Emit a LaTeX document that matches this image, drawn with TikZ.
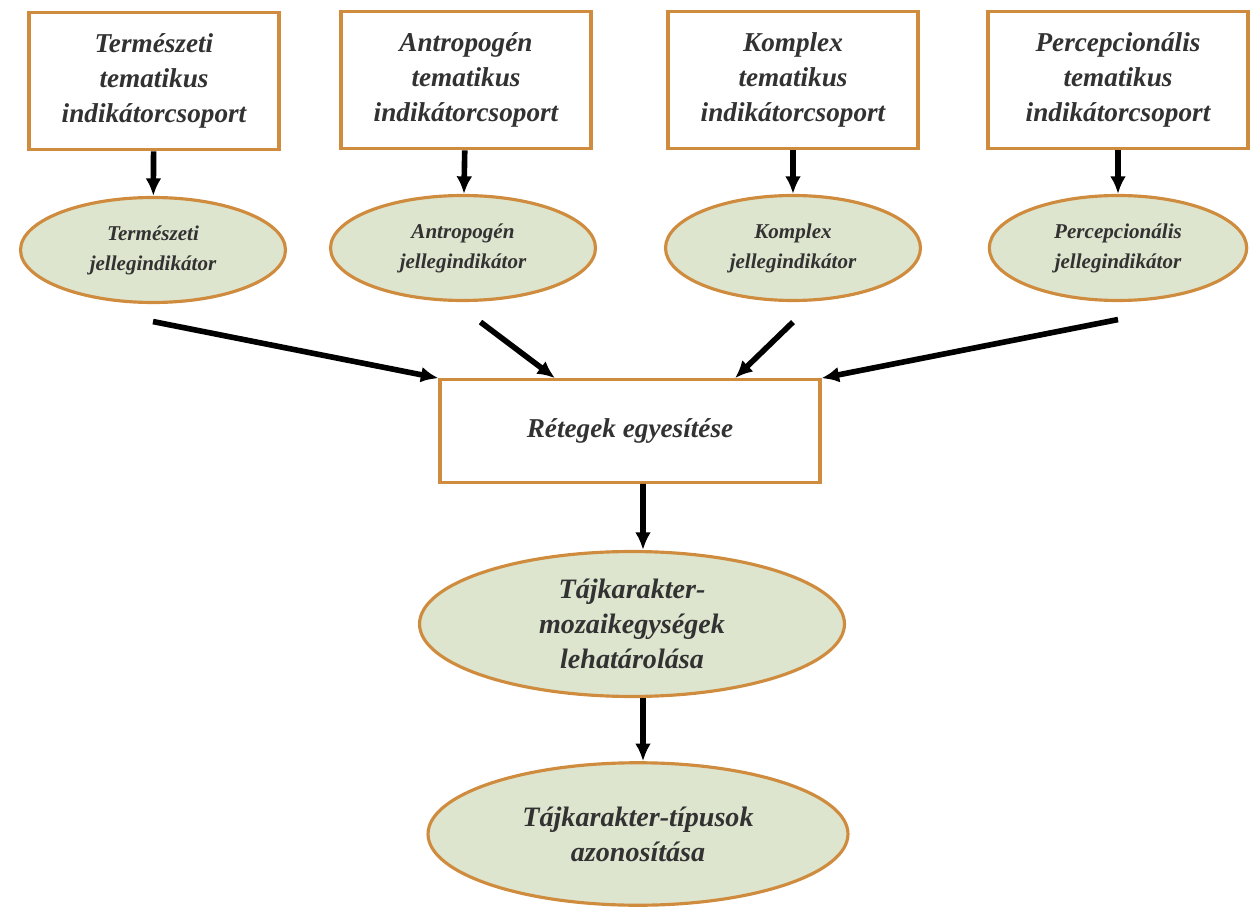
\documentclass[tikz,border=0pt]{standalone}
\usepackage{fontspec}
\setmainfont{Liberation Serif}
\usepackage{tikz}
\usetikzlibrary{shapes.geometric, arrows.meta}

\definecolor{frame}{RGB}{208,140,62}
\definecolor{leaf}{RGB}{221,229,207}
\definecolor{ink}{RGB}{50,50,50}

\begin{document}
\begin{tikzpicture}[x = 0.02cm, y = -0.02cm, line width = 1pt,
                      group/.style = {draw = frame, line width = 1.8pt, fill = white, text = ink,
                                      minimum width = 5.0cm, minimum height = 2.75cm,
                                      align = center, font = \fontsize{15.5}{20}\selectfont\bfseries\itshape},
                      trait/.style = {ellipse, draw = frame, line width = 1.8pt, fill = leaf, text = ink,
                                      minimum width = 5.3cm, minimum height = 2.1cm, inner sep = 0pt,
                                      align = center, font = \fontsize{12}{17}\selectfont\bfseries\itshape},
                      merge/.style = {draw = frame, line width = 1.8pt, fill = white, text = ink,
                                      minimum width = 7.6cm, minimum height = 2.05cm,
                                      font = \fontsize{15.5}{20}\selectfont\bfseries\itshape},
                      result/.style = {ellipse, draw = frame, line width = 1.8pt, fill = leaf, text = ink,
                                      minimum width = 8.5cm, minimum height = 2.9cm, inner sep = 0pt,
                                      align = center, font = \fontsize{16}{20}\selectfont\bfseries\itshape},
                      link/.style = {-{Latex[length = 10pt, width = 9pt]}, line width = 3.2pt, black}]
    \useasboundingbox (0, 0) rectangle (1250, 911);
    \node [group] (g1) at (154, 81) {Természeti\\tematikus\\indikátorcsoport};
    \node [group] (g2) at (466, 80) {Antropogén\\tematikus\\indikátorcsoport};
    \node [group] (g3) at (793, 80) {Komplex\\tematikus\\indikátorcsoport};
    \node [group, minimum width = 5.2cm] (g4) at (1118, 80) {Percepcionális\\tematikus\\indikátorcsoport};
    \node [trait] (t1) at (153, 250) {Természeti\\jellegindikátor};
    \node [trait] (t2) at (463, 248) {Antropogén\\jellegindikátor};
    \node [trait, minimum width = 5.1cm] (t3) at (793, 248) {Komplex\\jellegindikátor};
    \node [trait, minimum width = 5.15cm] (t4) at (1118, 248) {Percepcionális\\jellegindikátor};
    \node [merge] (m) at (630, 431) {Rétegek egyesítése};
    \node [result] (r1) at (632, 624) {Tájkarakter-\\mozaikegységek\\lehatárolása};
    \node [result, minimum width = 8.4cm, minimum height = 2.85cm] (r2) at (638, 834) {Tájkarakter-típusok\\azonosítása};
    \draw [link] (g1) -- (t1);
    \draw [link] (g2) -- (t2);
    \draw [link] (g3) -- (t3);
    \draw [link] (g4) -- (t4);
    \draw [link] ([yshift = -0.35cm] t1.south) -- (m.north west);
    \draw [link] ([shift = {(0.35cm, -0.4cm)}] t2.south) -- ([xshift = -1.5cm] m.north);
    \draw [link] ([yshift = -0.4cm] t3.south) -- ([xshift = 2.1cm] m.north);
    \draw [link] ([yshift = -0.35cm] t4.south) -- (m.north east);
    \draw [link] ([xshift = 0.26cm] m.south) -- ([xshift = 0.22cm] r1.north);
    \draw [link] ([xshift = 0.22cm] r1.south) -- ([xshift = 0.1cm] r2.north);
\end{tikzpicture}
\end{document}
